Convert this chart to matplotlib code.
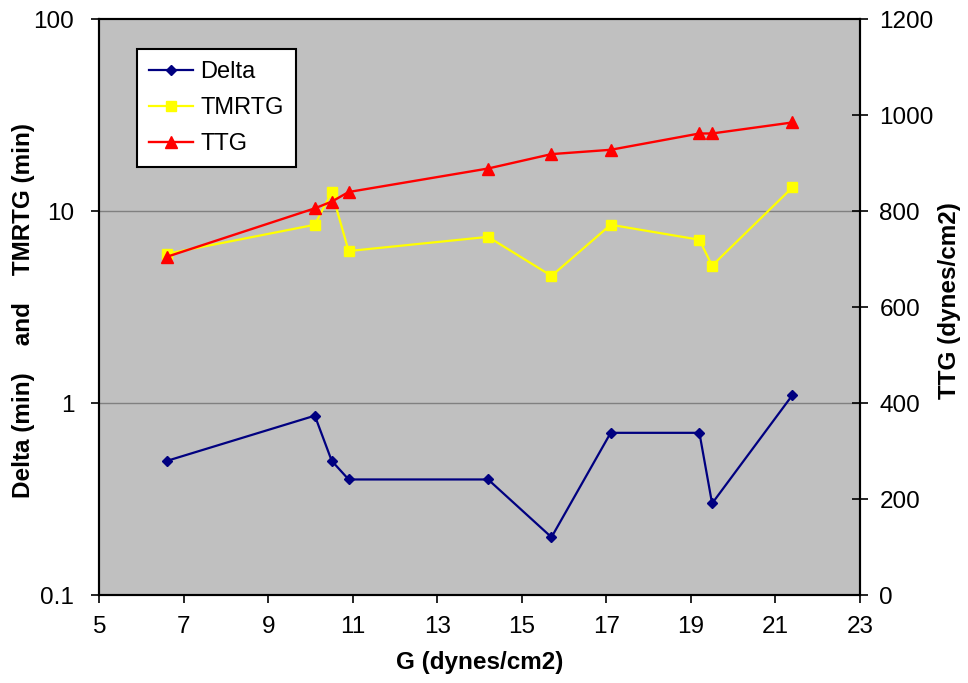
import matplotlib
matplotlib.use("Agg")
import matplotlib.pyplot as plt
from matplotlib.ticker import FixedLocator, FixedFormatter, NullLocator

plt.rcParams['font.family'] = ['Liberation Sans', 'DejaVu Sans']

# Data
g_values = [6.6, 10.1, 10.5, 10.9, 14.2, 15.7, 17.1, 19.2, 19.5, 21.4]
delta = [0.50, 0.86, 0.50, 0.40, 0.40, 0.20, 0.70, 0.70, 0.30, 1.10]
tmrtg = [6.0, 8.5, 12.6, 6.2, 7.35, 4.6, 8.5, 7.1, 5.2, 13.3]
ttg = [705, 806, 820, 840, 889, 919, 928, 962, 962, 985]

x_ticks = [5, 7, 9, 11, 13, 15, 17, 19, 21, 23]
left_ticks = [0.1, 1, 10, 100]
left_tick_labels = ["0.1", "1", "10", "100"]
right_ticks = [0, 200, 400, 600, 800, 1000, 1200]

fig = plt.figure(figsize=(9.68, 6.83), dpi=100)
ax = fig.add_axes([99.3/968, 1 - 595/683, (860 - 99.3)/968, (595 - 19.3)/683])
ax.set_facecolor('#C0C0C0')
ax2 = ax.twinx()

l1, = ax.plot(g_values, delta, color='#000080', lw=1.6, marker='D', ms=5.6,
              mfc='#000080', mec='#000080', label='Delta', zorder=3)
l2, = ax.plot(g_values, tmrtg, color='#FFFF00', lw=1.6, marker='s', ms=7.2,
              mfc='#FFFF00', mec='#FFFF00', label='TMRTG', zorder=3)
l3, = ax2.plot(g_values, ttg, color='#FF0000', lw=1.7, marker='^', ms=8.6,
               mfc='#FF0000', mec='#FF0000', label='TTG', zorder=3)

ax.set_yscale('log')
ax.set_ylim(0.1, 100)
ax.set_xlim(5, 23)
ax.yaxis.set_major_locator(FixedLocator(left_ticks))
ax.yaxis.set_major_formatter(FixedFormatter(left_tick_labels))
ax.yaxis.set_minor_locator(NullLocator())
ax.set_xticks(x_ticks)
ax.set_xticklabels([str(t) for t in x_ticks])

ax2.set_ylim(0, 1200)
ax2.set_yticks(right_ticks)
ax2.set_yticklabels([str(t) for t in right_ticks])

for yv in [1, 10]:
    ax.axhline(yv, color='#808080', lw=1.0, zorder=1)

for a in (ax, ax2):
    for s in a.spines.values():
        s.set_linewidth(1.5)
        s.set_color('black')

ax.tick_params(axis='both', which='major', labelsize=17.5, length=6, width=1.2,
               direction='out', color='black')
ax.tick_params(axis='y', pad=12)
ax.tick_params(axis='x', pad=9)
ax2.tick_params(axis='y', labelsize=17.5, length=12, width=1.2, direction='inout', pad=8)

ax.set_xlabel('G (dynes/cm2)', fontsize=17.5, fontweight='bold')
ax.xaxis.set_label_coords(0.5, -(651 - 595) / 575.7)
ax.set_ylabel('Delta (min)    and    TMRTG (min)', fontsize=17.5, fontweight='bold')
ax.yaxis.set_label_coords((35 - 99.3) / 760.7, 0.495)
ax2.set_ylabel('TTG (dynes/cm2)', fontsize=17.5, fontweight='bold')
ax2.yaxis.set_label_coords((938 - 99.3) / 760.7, 0.512)

leg = ax2.legend(handles=[l1, l2, l3], loc='upper left',
                 bbox_to_anchor=((136.7 - 99.3) / 760.7, 1 - (49.3 - 19.3) / 575.7),
                 borderaxespad=0, fontsize=17, frameon=True, fancybox=False,
                 edgecolor='black', facecolor='white', framealpha=1,
                 handlelength=1.9, handletextpad=0.3, labelspacing=0.6,
                 borderpad=0.5)
leg.get_frame().set_linewidth(1.5)

fig.savefig('out.png', dpi=100)
